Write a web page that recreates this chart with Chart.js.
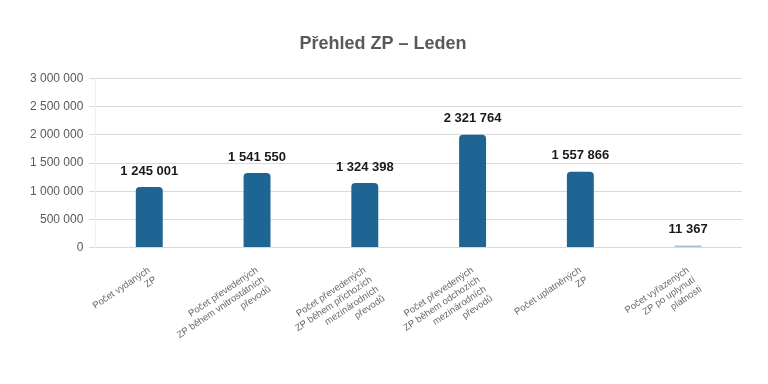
<!DOCTYPE html>
<html>
<head>
<meta charset="utf-8">
<script src="https://cdn.jsdelivr.net/npm/chart.js@4/dist/chart.umd.min.js"></script>
<style>
html,body{margin:0;padding:0;background:#fff;}
#c{display:block;}
</style>
</head>
<body>
<canvas id="c" width="768" height="384"></canvas>
<script>
const categories = [
  ["Počet vydaných", "ZP"],
  ["Počet převedených", "ZP během vnitrostátních", "převodů"],
  ["Počet převedených", "ZP během příchozích", "mezinárodních", "převodů"],
  ["Počet převedených", "ZP během odchozích", "mezinárodních", "převodů"],
  ["Počet uplatněných", "ZP"],
  ["Počet vyřazených", "ZP po uplynutí", "platnosti"]
];
const barValues = [1074000, 1323000, 1145000, 2004000, 1346000, 11367];
const valueLabels = ["1 245 001", "1 541 550", "1 324 398", "2 321 764", "1 557 866", "11 367"];
const barColors = ["#1f6594", "#1f6594", "#1f6594", "#1f6594", "#1f6594", "#9dc3e6"];
const yTicks = [0, 500000, 1000000, 1500000, 2000000, 2500000, 3000000];

const fmt = v => String(v).replace(/\B(?=(\d{3})+(?!\d))/g, " ");

const labelPlugin = {
  id: 'valueLabels',
  afterDatasetsDraw(chart) {
    const ctx = chart.ctx;
    const meta = chart.getDatasetMeta(0);
    ctx.save();
    ctx.font = 'bold 13px "Liberation Sans", Arial, sans-serif';
    ctx.fillStyle = '#1a1a1a';
    ctx.textAlign = 'center';
    ctx.textBaseline = 'middle';
    meta.data.forEach((el, i) => {
      ctx.fillText(valueLabels[i], el.x, el.y - 16);
    });
    ctx.restore();
  }
};

new Chart(document.getElementById('c'), {
  type: 'bar',
  data: {
    labels: categories,
    datasets: [{
      data: barValues,
      backgroundColor: barColors,
      borderRadius: {topLeft: 4, topRight: 4},
      borderSkipped: 'bottom',
      barPercentage: 0.5,
      categoryPercentage: 0.5,
      minBarLength: 2
    }]
  },
  options: {
    responsive: false,
    animation: false,
    layout: {padding: {top: 27, right: 26, left: 24, bottom: 15}},
    plugins: {
      legend: {display: false},
      tooltip: {enabled: false},
      title: {
        display: true,
        text: 'Přehled ZP – Leden',
        color: '#595959',
        font: {family: '"Liberation Sans", Arial, sans-serif', size: 18, weight: 'bold'},
        padding: {top: 6, bottom: 24}
      }
    },
    scales: {
      x: {
        grid: {display: false},
        border: {display: false},
        ticks: {
          color: '#6a6a6a',
          font: {family: '"Liberation Sans", Arial, sans-serif', size: 9.5},
          minRotation: 34,
          maxRotation: 34,
          autoSkip: false,
          padding: 9
        }
      },
      y: {
        min: 0,
        max: 3000000,
        afterBuildTicks: axis => { axis.ticks = yTicks.map(v => ({value: v})); },
        grid: {color: '#d9d9d9', lineWidth: 1, tickLength: 6},
        border: {display: true, color: '#eeeeee'},
        ticks: {
          color: '#595959',
          font: {family: '"Liberation Sans", Arial, sans-serif', size: 12},
          padding: 6,
          callback: v => fmt(v)
        }
      }
    }
  },
  plugins: [labelPlugin]
});
</script>
</body>
</html>
